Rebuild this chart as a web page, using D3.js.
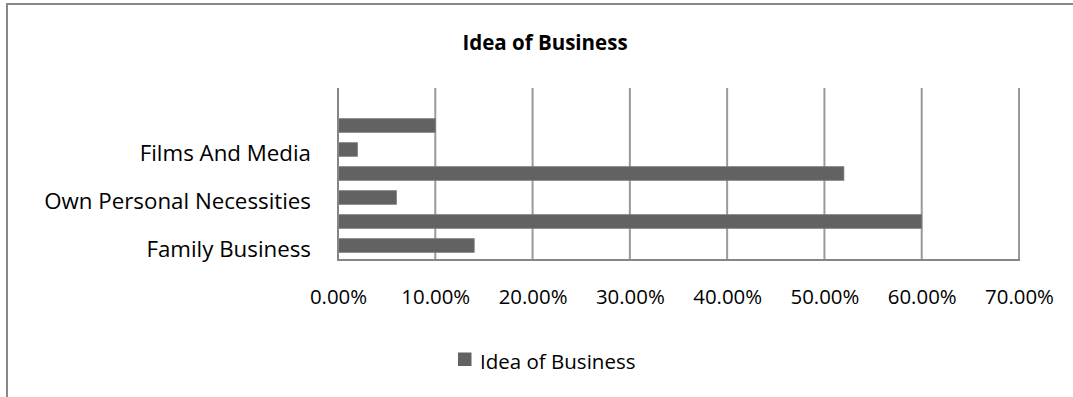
<!DOCTYPE html>
<html>
<head>
<meta charset="utf-8">
<script src="https://cdn.jsdelivr.net/npm/d3@7"></script>
<style>
  html, body { margin: 0; padding: 0; background: #fff; }
  svg { display: block; }
  text { font-family: "Open Sans", sans-serif; fill: #000; }
</style>
</head>
<body>
<svg id="chart" width="1073" height="397"></svg>
<script>
// Data (top-level arrays), bottom to top as in the chart
const categories = ["Family Business", "Business Opportunity", "Own Personal Necessities", "Passion And Interest", "Films And Media", "Others"];
const values = [0.14, 0.60, 0.06, 0.52, 0.02, 0.10];
const shownLabels = ["Family Business", "Own Personal Necessities", "Films And Media"];
const xTicks = [0, 0.1, 0.2, 0.3, 0.4, 0.5, 0.6, 0.7];
const seriesName = "Idea of Business";
const chartTitle = "Idea of Business";

const svg = d3.select("#chart");

// outer chart border
svg.append("rect")
  .attr("x", 7).attr("y", 4)
  .attr("width", 1100).attr("height", 420)
  .attr("fill", "none").attr("stroke", "#888").attr("stroke-width", 2);

const plot = { left: 338, right: 1019, top: 88, bottom: 260 };

const x = d3.scaleLinear().domain([0, 0.7]).range([plot.left, plot.right]);
const y = d3.scaleBand()
  .domain(categories)
  .range([257.5, 113.5])
  .paddingInner(0.433)
  .paddingOuter(0.2165);

// gridlines
svg.append("g").selectAll("line")
  .data(xTicks.filter(d => d > 0))
  .join("line")
  .attr("x1", d => x(d)).attr("x2", d => x(d))
  .attr("y1", plot.top).attr("y2", plot.bottom)
  .attr("stroke", "#9a9a9a").attr("stroke-width", 2);

// bars
svg.append("g").selectAll("rect")
  .data(categories.map((c, i) => ({ c, v: values[i] })))
  .join("rect")
  .attr("x", x(0))
  .attr("y", d => y(d.c))
  .attr("width", d => x(d.v) - x(0))
  .attr("height", y.bandwidth())
  .attr("fill", "#626262")
  .attr("stroke", "#7a7a7a").attr("stroke-width", 0.8);

// axes lines
svg.append("line")
  .attr("x1", plot.left).attr("x2", plot.left)
  .attr("y1", plot.top).attr("y2", plot.bottom + 1)
  .attr("stroke", "#868686").attr("stroke-width", 2);
svg.append("line")
  .attr("x1", plot.left - 1).attr("x2", plot.right + 1)
  .attr("y1", plot.bottom).attr("y2", plot.bottom)
  .attr("stroke", "#868686").attr("stroke-width", 2);

// x axis labels via d3 axis
const xAxis = d3.axisBottom(x).tickValues(xTicks).tickFormat(d3.format(".2%")).tickSize(0).tickPadding(0);
const gx = svg.append("g").attr("transform", `translate(0, 304)`).call(xAxis);
gx.select(".domain").remove();
gx.selectAll("text").attr("y", 0).attr("dy", 0)
  .style("font-size", "20.4px").style("font-family", "'Open Sans', sans-serif").attr("fill", "#000");

// y axis labels
const yAxis = d3.axisLeft(y).tickSize(0).tickPadding(0)
  .tickFormat(d => shownLabels.includes(d) ? d : "");
const gy = svg.append("g").attr("transform", `translate(311, 4)`).call(yAxis);
gy.select(".domain").remove();
gy.selectAll("text")
  .style("font-size", "22.3px").style("font-family", "'Open Sans', sans-serif").attr("fill", "#000");

// title
svg.append("text")
  .attr("x", 545).attr("y", 50)
  .attr("text-anchor", "middle")
  .style("font-size", "20.5px").style("font-weight", "bold")
  .text(chartTitle);

// legend
svg.append("rect")
  .attr("x", 458).attr("y", 352.5).attr("width", 13.5).attr("height", 13.5)
  .attr("fill", "#626262");
svg.append("text")
  .attr("x", 480).attr("y", 369)
  .style("font-size", "20.5px")
  .text(seriesName);
</script>
</body>
</html>
